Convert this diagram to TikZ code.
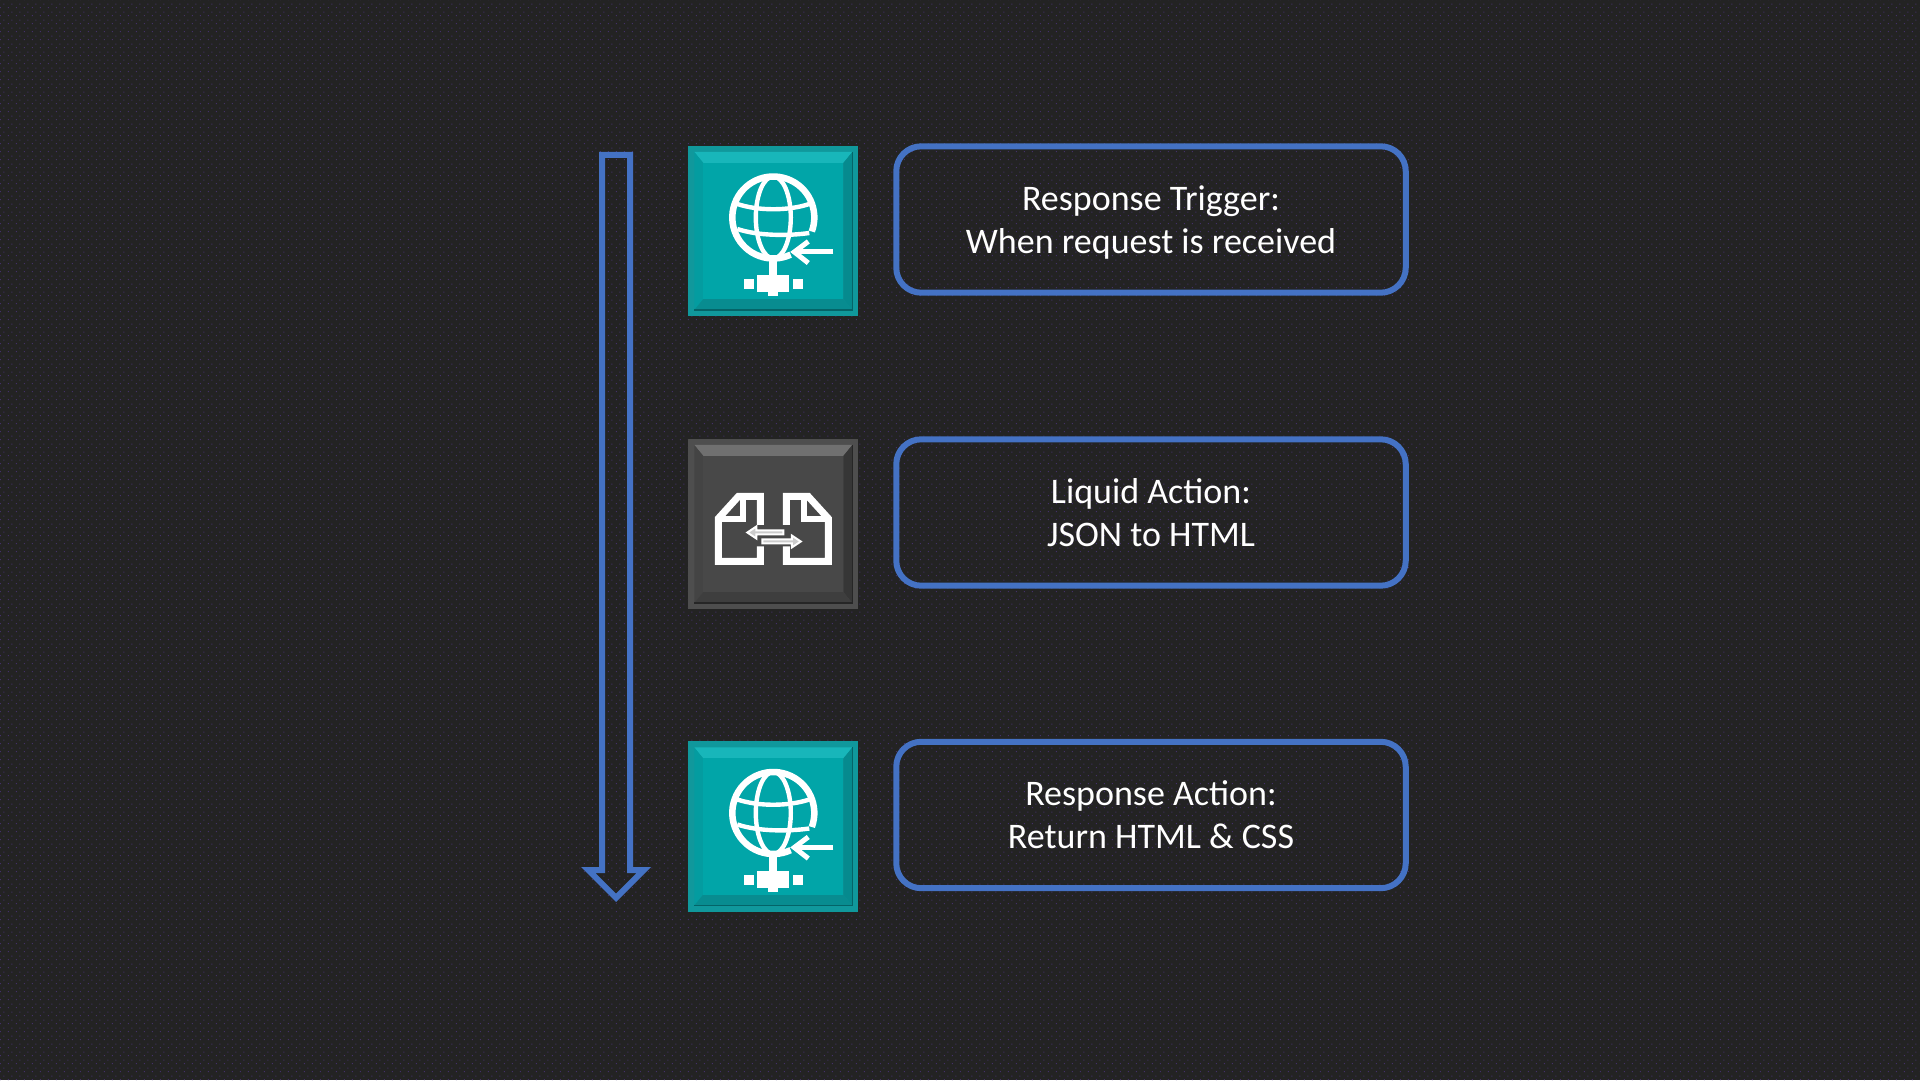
\documentclass[tikz,border=0pt]{standalone}
\usepackage{fontspec}
\setmainfont{Carlito}
\usetikzlibrary{patterns}
\definecolor{bgbase}{HTML}{232323}
\definecolor{bgdot}{HTML}{43306A}
\definecolor{flow}{HTML}{4472C4}
\definecolor{tealA}{RGB}{16,152,156}
\definecolor{tealB}{RGB}{24,182,186}
\definecolor{tealC}{RGB}{4,156,160}
\definecolor{tealD}{RGB}{6,138,142}
\definecolor{tealE}{RGB}{8,140,144}
\definecolor{tealF}{RGB}{1,165,168}
\definecolor{tealL}{RGB}{4,100,104}
\definecolor{greyA}{RGB}{78,78,78}
\definecolor{greyB}{RGB}{112,112,112}
\definecolor{greyC}{RGB}{68,68,68}
\definecolor{greyD}{RGB}{54,54,54}
\definecolor{greyE}{RGB}{62,62,62}
\definecolor{greyF}{RGB}{72,72,72}
\definecolor{greyL}{RGB}{38,38,38}
\pgfdeclarepatternformonly{bgdots}{\pgfqpoint{0pt}{0pt}}{\pgfqpoint{8pt}{8pt}}{\pgfqpoint{8pt}{8pt}}{%
  \pgfpathrectangle{\pgfqpoint{1pt}{1pt}}{\pgfqpoint{1pt}{1pt}}%
  \pgfpathrectangle{\pgfqpoint{5pt}{5pt}}{\pgfqpoint{1pt}{1pt}}%
  \pgfusepath{fill}}
\tikzset{
  x=1pt,y=1pt,
  stepbox/.style={draw=flow,line width=6pt,rounded corners=25pt,minimum width=509.5pt,minimum height=146.4pt,inner sep=0pt,outer sep=0pt,text=white,align=center,font=\fontsize{36}{43}\selectfont},
  flowline/.style={draw=flow,line width=6pt,miter limit=10},
  glyph/.style={draw=white,line cap=butt,line join=miter},
  pics/tile/.style n args={7}{code={
    \fill[#1] (-85,-85) rectangle (85,85);
    \fill[#2] (-79,79) -- (79,79) -- (70,68) -- (-70,68) -- cycle;
    \fill[#3] (-79,-79) -- (-70,-68) -- (-70,68) -- (-79,79) -- cycle;
    \fill[#4] (79,79) -- (70,68) -- (70,-68) -- (79,-79) -- cycle;
    \fill[#5] (-79,-79) -- (-70,-68) -- (70,-68) -- (79,-79) -- cycle;
    \fill[#6] (-70,-68) rectangle (70,68);
    \draw[#7,line width=1.5pt] (79,79) -- (79,-79) -- (-79,-79);
  }},
  pics/globe/.style={code={
    \draw[glyph,line width=6.5pt] (0,13.5) ++(-20:41pt) arc[start angle=-20,end angle=295,radius=41pt];
    \draw[glyph,line width=4.4pt] (0,13.5) ellipse[x radius=17.5pt,y radius=41pt];
    \draw[glyph,line width=4.4pt] (-36,27) .. controls (-15,20) and (15,20) .. (36,27);
    \draw[glyph,line width=4.4pt] (-36,2) .. controls (-15,-5) and (15,-5) .. (36,-2);
    \fill[white] (-4,-30) rectangle (4,-44);
    \fill[white] (-16,-44) rectangle (16,-61);
    \fill[white] (-29.5,-48.5) rectangle (-19.5,-58.5);
    \fill[white] (19.5,-48.5) rectangle (30,-58.5);
    \fill[white] (-5,-61.5) rectangle (5,-65.5);
    \draw[glyph,line width=5pt] (60,-21) -- (22,-21);
    \draw[glyph,line width=5pt] (35,-10.5) -- (21,-21) -- (35,-32);
  }},
  pics/docswap/.style={code={
    \draw[glyph,line width=7pt] (-13,-1) -- (-13,27.5) -- (-35,27.5) -- (-55,5.5) -- (-55,-37.5) -- (-13,-37.5) -- (-13,-22.5);
    \draw[glyph,line width=6pt] (-30.5,27.5) -- (-30.5,5) -- (-55,5);
    \draw[glyph,line width=7pt] (13,-1) -- (13,27.5) -- (35,27.5) -- (55,5.5) -- (55,-37.5) -- (13,-37.5) -- (13,-22.5);
    \draw[glyph,line width=6pt] (30.5,27.5) -- (30.5,5) -- (55,5);
    \draw[draw=white,fill=gray!40,line width=2pt,line join=miter] (-26,-8.5) -- (-17,-2.5) -- (-17,-6.5) -- (10,-6.5) -- (10,-10.5) -- (-17,-10.5) -- (-17,-14.5) -- cycle;
    \draw[draw=white,fill=gray!40,line width=2pt,line join=miter] (27.5,-17.5) -- (18.5,-11.5) -- (18.5,-15.5) -- (-11,-15.5) -- (-11,-19.5) -- (18.5,-19.5) -- (18.5,-23.5) -- cycle;
  }}
}
\begin{document}
\begin{tikzpicture}
\useasboundingbox (0,0) rectangle (1920,1080);
\fill[bgbase] (0,0) rectangle (1920,1080);
\fill[pattern=bgdots,pattern color=bgdot] (0,0) rectangle (1920,1080);

\draw[flowline] (602,925) -- (630,925) -- (630,210) -- (643.76,210) -- (616,182.24) -- (588.24,210) -- (602,210) -- cycle;

\pic at (773.3,849) {tile={tealA}{tealB}{tealC}{tealD}{tealE}{tealF}{tealL}};
\pic at (773.3,849) {globe};
\pic at (773.3,556) {tile={greyA}{greyB}{greyC}{greyD}{greyE}{greyF}{greyL}};
\pic at (773.3,556) {docswap};
\pic at (773.3,253.5) {tile={tealA}{tealB}{tealC}{tealD}{tealE}{tealF}{tealL}};
\pic at (773.3,253.5) {globe};

\node[stepbox] (trigger) at (1151,860.5) {Response Trigger:\\\smash{When request is received}};
\node[stepbox] (liquid) at (1151,567.5) {Liquid Action:\\JSON to HTML};
\node[stepbox] (response) at (1151,265) {Response Action:\\Return HTML \& CSS};
\end{tikzpicture}
\end{document}
